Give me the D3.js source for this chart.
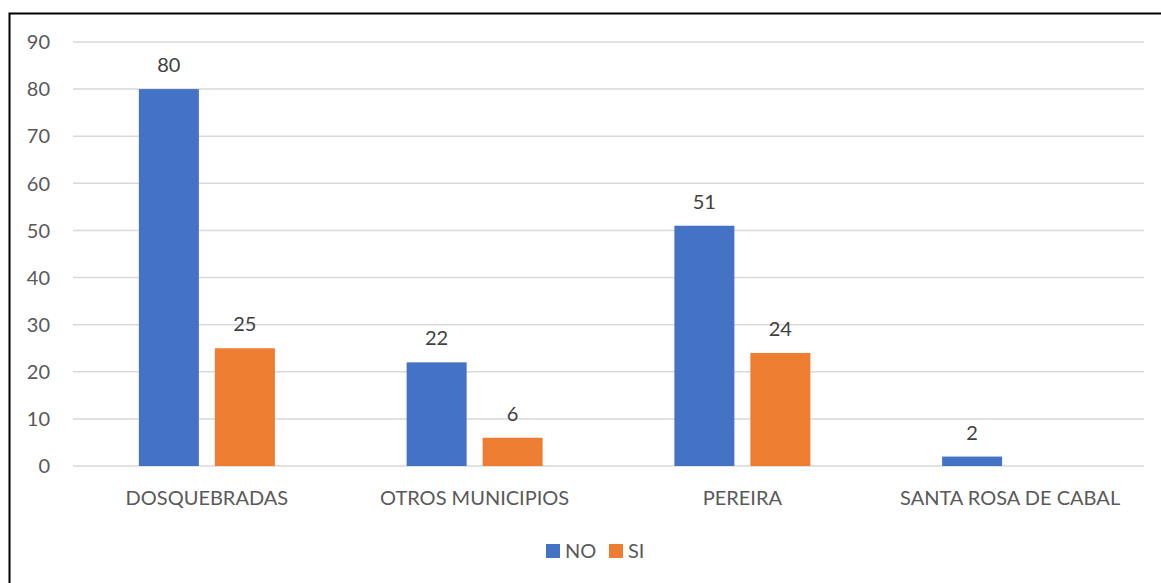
<!DOCTYPE html>
<html>
<head>
<meta charset="utf-8">
<script src="https://cdn.jsdelivr.net/npm/d3@7"></script>
<style>
  html, body { margin: 0; padding: 0; background: #fff; }
  svg { display: block; }
  text { font-family: Lato, "Open Sans", "Liberation Sans", sans-serif; }
</style>
</head>
<body>
<svg id="chart" width="1161" height="583"></svg>
<script>
// Municipalities and counts per answer
const categories = ["DOSQUEBRADAS", "OTROS MUNICIPIOS", "PEREIRA", "SANTA ROSA DE CABAL"];
const seriesNames = ["NO", "SI"];
const valuesNO = [80, 22, 51, 2];
const valuesSI = [25, 6, 24, null];
const yTicks = [0, 10, 20, 30, 40, 50, 60, 70, 80, 90];
const colors = ["#4472C4", "#ED7D31"];

const svg = d3.select("#chart");
const W = 1161, H = 583;
const plot = { left: 73, right: 1144, top: 42, bottom: 466 };
const FS = 20;

// Outer frame
svg.append("rect")
  .attr("x", 9.5).attr("y", 13.5)
  .attr("width", W + 10).attr("height", H + 10)
  .attr("fill", "#fff").attr("stroke", "#000").attr("stroke-width", 2);

const x0 = d3.scaleBand().domain(categories).range([plot.left, plot.right]);
const x1 = d3.scaleBand().domain(seriesNames).range([0, 136]).paddingInner(16 / 76);
const y = d3.scaleLinear().domain([0, 90]).range([plot.bottom, plot.top]);

// Gridlines
svg.append("g").selectAll("line").data(yTicks).join("line")
  .attr("x1", plot.left).attr("x2", plot.right)
  .attr("y1", d => y(d)).attr("y2", d => y(d))
  .attr("stroke", "#d9d9d9").attr("stroke-width", 1.5);

// Y tick labels
svg.append("g").selectAll("text").data(yTicks).join("text")
  .attr("x", 50).attr("y", d => y(d))
  .attr("dy", "0.36em").attr("text-anchor", "end")
  .attr("font-size", FS).attr("fill", "#595959")
  .text(d => d);

const rows = categories.map((c, i) => ({ cat: c, vals: [valuesNO[i], valuesSI[i]] }));

const groups = svg.append("g").selectAll("g").data(rows).join("g")
  .attr("transform", d => `translate(${x0(d.cat) + x0.bandwidth() / 2 - 68},0)`);

const bars = groups.selectAll("g.bar")
  .data(d => d.vals.map((v, j) => ({ s: seriesNames[j], v, j })).filter(e => e.v != null))
  .join("g").attr("class", "bar");

bars.append("rect")
  .attr("x", d => x1(d.s)).attr("width", x1.bandwidth())
  .attr("y", d => y(d.v)).attr("height", d => y(0) - y(d.v))
  .attr("fill", d => colors[d.j]);

bars.append("text")
  .attr("x", d => x1(d.s) + x1.bandwidth() / 2)
  .attr("y", d => y(d.v) - 17)
  .attr("text-anchor", "middle")
  .attr("font-size", FS).attr("fill", "#404040")
  .text(d => d.v);

// Category labels
svg.append("g").selectAll("text").data(categories).join("text")
  .attr("x", d => x0(d) + x0.bandwidth() / 2)
  .attr("y", 505)
  .attr("text-anchor", "middle")
  .attr("font-size", FS).attr("fill", "#595959")
  .text(d => d);

// Legend
const legend = svg.append("g");
const legendX = [546, 609];
seriesNames.forEach((s, i) => {
  legend.append("rect").attr("x", legendX[i]).attr("y", 544)
    .attr("width", 14).attr("height", 14).attr("fill", colors[i]);
  legend.append("text").attr("x", legendX[i] + 19).attr("y", 558)
    .attr("font-size", FS).attr("fill", "#595959")
    .text(s);
});
</script>
</body>
</html>
